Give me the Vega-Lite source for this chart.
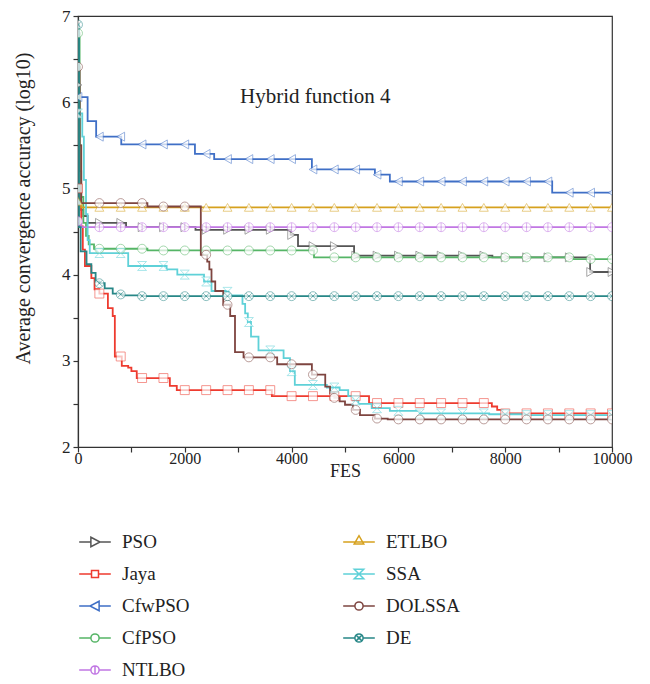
{
  "$schema": "https://vega.github.io/schema/vega-lite/v6.json",
  "width": 534,
  "height": 431,
  "autosize": "none",
  "padding": {"left": 78, "top": 16, "right": 38, "bottom": 237},
  "background": "white",
  "title": {"text": "Hybrid function 4", "anchor": "start", "frame": "group", "orient": "top", "offset": -100, "dx": 162, "fontSize": 21, "fontWeight": "normal", "font": "Liberation Serif", "color": "#222"},
  "config": {
    "font": "Liberation Serif",
    "view": {"stroke": "#333", "strokeWidth": 1.2},
    "axis": {"grid": false, "domainColor": "#333", "tickColor": "#333", "labelColor": "#222", "titleColor": "#222", "titleFontWeight": "normal", "labelFont": "Liberation Serif", "titleFont": "Liberation Serif", "labelFlush": false, "labelOverlap": false, "tickSize": 5, "domainWidth": 1.2, "tickWidth": 1.2}
  },
  "resolve": {"legend": {"color": "independent", "shape": "independent"}},
  "data": {"name": "curves"},
  "datasets": {
    "curves": [
      {"s":"PSO","x":0,"y":6.2},{"s":"PSO","x":30,"y":5.2},{"s":"PSO","x":60,"y":4.75},{"s":"PSO","x":100,"y":4.68},{"s":"PSO","x":180,"y":4.6},{"s":"PSO","x":400,"y":4.6},{"s":"PSO","x":800,"y":4.6},{"s":"PSO","x":900,"y":4.55},{"s":"PSO","x":1200,"y":4.55},{"s":"PSO","x":1600,"y":4.55},{"s":"PSO","x":2000,"y":4.55},{"s":"PSO","x":2200,"y":4.52},{"s":"PSO","x":2400,"y":4.52},{"s":"PSO","x":2800,"y":4.52},{"s":"PSO","x":3200,"y":4.52},{"s":"PSO","x":3600,"y":4.52},{"s":"PSO","x":3980,"y":4.46},{"s":"PSO","x":4000,"y":4.46},{"s":"PSO","x":4120,"y":4.33},{"s":"PSO","x":4400,"y":4.33},{"s":"PSO","x":4800,"y":4.33},{"s":"PSO","x":5170,"y":4.22},{"s":"PSO","x":5200,"y":4.22},{"s":"PSO","x":5600,"y":4.22},{"s":"PSO","x":6000,"y":4.22},{"s":"PSO","x":6400,"y":4.22},{"s":"PSO","x":6800,"y":4.22},{"s":"PSO","x":7200,"y":4.22},{"s":"PSO","x":7600,"y":4.22},{"s":"PSO","x":7760,"y":4.2},{"s":"PSO","x":8000,"y":4.2},{"s":"PSO","x":8400,"y":4.2},{"s":"PSO","x":8800,"y":4.2},{"s":"PSO","x":9200,"y":4.2},{"s":"PSO","x":9590,"y":4.03},{"s":"PSO","x":9600,"y":4.03},{"s":"PSO","x":10000,"y":4.03},

      {"s":"Jaya","x":0,"y":5.0},{"s":"Jaya","x":30,"y":4.85},{"s":"Jaya","x":60,"y":4.56},{"s":"Jaya","x":90,"y":4.29},{"s":"Jaya","x":130,"y":4.1},{"s":"Jaya","x":250,"y":3.96},{"s":"Jaya","x":310,"y":3.83},{"s":"Jaya","x":400,"y":3.78},{"s":"Jaya","x":560,"y":3.61},{"s":"Jaya","x":650,"y":3.52},{"s":"Jaya","x":690,"y":3.05},{"s":"Jaya","x":800,"y":3.05},{"s":"Jaya","x":820,"y":2.94},{"s":"Jaya","x":940,"y":2.92},{"s":"Jaya","x":1000,"y":2.88},{"s":"Jaya","x":1100,"y":2.8},{"s":"Jaya","x":1200,"y":2.8},{"s":"Jaya","x":1600,"y":2.8},{"s":"Jaya","x":1720,"y":2.71},{"s":"Jaya","x":1850,"y":2.66},{"s":"Jaya","x":2000,"y":2.66},{"s":"Jaya","x":2400,"y":2.66},{"s":"Jaya","x":2800,"y":2.66},{"s":"Jaya","x":3200,"y":2.66},{"s":"Jaya","x":3600,"y":2.66},{"s":"Jaya","x":3630,"y":2.59},{"s":"Jaya","x":4000,"y":2.59},{"s":"Jaya","x":4400,"y":2.59},{"s":"Jaya","x":4800,"y":2.59},{"s":"Jaya","x":5200,"y":2.59},{"s":"Jaya","x":5450,"y":2.51},{"s":"Jaya","x":5600,"y":2.51},{"s":"Jaya","x":6000,"y":2.51},{"s":"Jaya","x":6400,"y":2.51},{"s":"Jaya","x":6800,"y":2.51},{"s":"Jaya","x":7200,"y":2.51},{"s":"Jaya","x":7600,"y":2.51},{"s":"Jaya","x":7750,"y":2.47},{"s":"Jaya","x":7850,"y":2.43},{"s":"Jaya","x":7950,"y":2.39},{"s":"Jaya","x":8000,"y":2.39},{"s":"Jaya","x":8400,"y":2.39},{"s":"Jaya","x":8800,"y":2.39},{"s":"Jaya","x":9200,"y":2.39},{"s":"Jaya","x":9600,"y":2.39},{"s":"Jaya","x":10000,"y":2.39},

      {"s":"CfwPSO","x":0,"y":6.06},{"s":"CfwPSO","x":180,"y":5.78},{"s":"CfwPSO","x":340,"y":5.6},{"s":"CfwPSO","x":400,"y":5.6},{"s":"CfwPSO","x":800,"y":5.6},{"s":"CfwPSO","x":810,"y":5.51},{"s":"CfwPSO","x":1200,"y":5.51},{"s":"CfwPSO","x":1600,"y":5.51},{"s":"CfwPSO","x":2000,"y":5.51},{"s":"CfwPSO","x":2190,"y":5.4},{"s":"CfwPSO","x":2400,"y":5.4},{"s":"CfwPSO","x":2550,"y":5.34},{"s":"CfwPSO","x":2800,"y":5.34},{"s":"CfwPSO","x":3200,"y":5.34},{"s":"CfwPSO","x":3600,"y":5.34},{"s":"CfwPSO","x":4000,"y":5.34},{"s":"CfwPSO","x":4380,"y":5.22},{"s":"CfwPSO","x":4400,"y":5.22},{"s":"CfwPSO","x":4800,"y":5.22},{"s":"CfwPSO","x":5200,"y":5.22},{"s":"CfwPSO","x":5560,"y":5.16},{"s":"CfwPSO","x":5600,"y":5.16},{"s":"CfwPSO","x":5840,"y":5.08},{"s":"CfwPSO","x":6000,"y":5.08},{"s":"CfwPSO","x":6400,"y":5.08},{"s":"CfwPSO","x":6800,"y":5.08},{"s":"CfwPSO","x":7200,"y":5.08},{"s":"CfwPSO","x":7600,"y":5.08},{"s":"CfwPSO","x":8000,"y":5.08},{"s":"CfwPSO","x":8400,"y":5.08},{"s":"CfwPSO","x":8800,"y":5.08},{"s":"CfwPSO","x":8880,"y":4.95},{"s":"CfwPSO","x":9200,"y":4.95},{"s":"CfwPSO","x":9600,"y":4.95},{"s":"CfwPSO","x":10000,"y":4.95},

      {"s":"CfPSO","x":0,"y":6.8},{"s":"CfPSO","x":30,"y":5.5},{"s":"CfPSO","x":60,"y":4.9},{"s":"CfPSO","x":100,"y":4.6},{"s":"CfPSO","x":150,"y":4.45},{"s":"CfPSO","x":200,"y":4.35},{"s":"CfPSO","x":300,"y":4.3},{"s":"CfPSO","x":400,"y":4.3},{"s":"CfPSO","x":800,"y":4.3},{"s":"CfPSO","x":1200,"y":4.3},{"s":"CfPSO","x":1300,"y":4.28},{"s":"CfPSO","x":1600,"y":4.28},{"s":"CfPSO","x":2000,"y":4.28},{"s":"CfPSO","x":2400,"y":4.28},{"s":"CfPSO","x":2800,"y":4.28},{"s":"CfPSO","x":3200,"y":4.28},{"s":"CfPSO","x":3600,"y":4.28},{"s":"CfPSO","x":4000,"y":4.28},{"s":"CfPSO","x":4400,"y":4.28},{"s":"CfPSO","x":4420,"y":4.2},{"s":"CfPSO","x":4800,"y":4.2},{"s":"CfPSO","x":5200,"y":4.2},{"s":"CfPSO","x":5600,"y":4.2},{"s":"CfPSO","x":6000,"y":4.2},{"s":"CfPSO","x":6400,"y":4.2},{"s":"CfPSO","x":6800,"y":4.2},{"s":"CfPSO","x":7200,"y":4.2},{"s":"CfPSO","x":7600,"y":4.2},{"s":"CfPSO","x":8000,"y":4.2},{"s":"CfPSO","x":8400,"y":4.2},{"s":"CfPSO","x":8800,"y":4.2},{"s":"CfPSO","x":9200,"y":4.2},{"s":"CfPSO","x":9270,"y":4.18},{"s":"CfPSO","x":9600,"y":4.18},{"s":"CfPSO","x":10000,"y":4.18},

      {"s":"NTLBO","x":0,"y":4.62},{"s":"NTLBO","x":60,"y":4.55},{"s":"NTLBO","x":400,"y":4.55},{"s":"NTLBO","x":800,"y":4.55},{"s":"NTLBO","x":1200,"y":4.55},{"s":"NTLBO","x":1600,"y":4.55},{"s":"NTLBO","x":2000,"y":4.55},{"s":"NTLBO","x":2400,"y":4.55},{"s":"NTLBO","x":2800,"y":4.55},{"s":"NTLBO","x":3200,"y":4.55},{"s":"NTLBO","x":3600,"y":4.55},{"s":"NTLBO","x":4000,"y":4.55},{"s":"NTLBO","x":4400,"y":4.55},{"s":"NTLBO","x":4800,"y":4.55},{"s":"NTLBO","x":5200,"y":4.55},{"s":"NTLBO","x":5600,"y":4.55},{"s":"NTLBO","x":6000,"y":4.55},{"s":"NTLBO","x":6400,"y":4.55},{"s":"NTLBO","x":6800,"y":4.55},{"s":"NTLBO","x":7200,"y":4.55},{"s":"NTLBO","x":7600,"y":4.55},{"s":"NTLBO","x":8000,"y":4.55},{"s":"NTLBO","x":8400,"y":4.55},{"s":"NTLBO","x":8800,"y":4.55},{"s":"NTLBO","x":9200,"y":4.55},{"s":"NTLBO","x":9600,"y":4.55},{"s":"NTLBO","x":10000,"y":4.55},

      {"s":"ETLBO","x":0,"y":4.85},{"s":"ETLBO","x":60,"y":4.78},{"s":"ETLBO","x":400,"y":4.78},{"s":"ETLBO","x":800,"y":4.78},{"s":"ETLBO","x":1200,"y":4.78},{"s":"ETLBO","x":1600,"y":4.78},{"s":"ETLBO","x":2000,"y":4.78},{"s":"ETLBO","x":2400,"y":4.78},{"s":"ETLBO","x":2800,"y":4.78},{"s":"ETLBO","x":3200,"y":4.78},{"s":"ETLBO","x":3600,"y":4.78},{"s":"ETLBO","x":4000,"y":4.78},{"s":"ETLBO","x":4400,"y":4.78},{"s":"ETLBO","x":4800,"y":4.78},{"s":"ETLBO","x":5200,"y":4.78},{"s":"ETLBO","x":5600,"y":4.78},{"s":"ETLBO","x":6000,"y":4.78},{"s":"ETLBO","x":6400,"y":4.78},{"s":"ETLBO","x":6800,"y":4.78},{"s":"ETLBO","x":7200,"y":4.78},{"s":"ETLBO","x":7600,"y":4.78},{"s":"ETLBO","x":8000,"y":4.78},{"s":"ETLBO","x":8400,"y":4.78},{"s":"ETLBO","x":8800,"y":4.78},{"s":"ETLBO","x":9200,"y":4.78},{"s":"ETLBO","x":9600,"y":4.78},{"s":"ETLBO","x":10000,"y":4.78},

      {"s":"SSA","x":0,"y":5.87},{"s":"SSA","x":80,"y":5.6},{"s":"SSA","x":110,"y":5.1},{"s":"SSA","x":150,"y":4.7},{"s":"SSA","x":180,"y":4.4},{"s":"SSA","x":220,"y":4.25},{"s":"SSA","x":400,"y":4.25},{"s":"SSA","x":800,"y":4.25},{"s":"SSA","x":940,"y":4.1},{"s":"SSA","x":1200,"y":4.1},{"s":"SSA","x":1600,"y":4.1},{"s":"SSA","x":1660,"y":4.06},{"s":"SSA","x":1860,"y":4.0},{"s":"SSA","x":2000,"y":4.0},{"s":"SSA","x":2360,"y":3.92},{"s":"SSA","x":2400,"y":3.92},{"s":"SSA","x":2500,"y":3.81},{"s":"SSA","x":2800,"y":3.8},{"s":"SSA","x":2820,"y":3.76},{"s":"SSA","x":3080,"y":3.66},{"s":"SSA","x":3130,"y":3.55},{"s":"SSA","x":3180,"y":3.45},{"s":"SSA","x":3200,"y":3.45},{"s":"SSA","x":3240,"y":3.28},{"s":"SSA","x":3380,"y":3.12},{"s":"SSA","x":3600,"y":3.12},{"s":"SSA","x":3850,"y":3.03},{"s":"SSA","x":3970,"y":2.88},{"s":"SSA","x":4000,"y":2.88},{"s":"SSA","x":4060,"y":2.72},{"s":"SSA","x":4400,"y":2.72},{"s":"SSA","x":4660,"y":2.69},{"s":"SSA","x":4800,"y":2.69},{"s":"SSA","x":4900,"y":2.66},{"s":"SSA","x":5060,"y":2.59},{"s":"SSA","x":5150,"y":2.54},{"s":"SSA","x":5200,"y":2.54},{"s":"SSA","x":5250,"y":2.5},{"s":"SSA","x":5500,"y":2.45},{"s":"SSA","x":5600,"y":2.45},{"s":"SSA","x":5840,"y":2.42},{"s":"SSA","x":6000,"y":2.42},{"s":"SSA","x":6400,"y":2.39},{"s":"SSA","x":6800,"y":2.39},{"s":"SSA","x":7200,"y":2.39},{"s":"SSA","x":7600,"y":2.39},{"s":"SSA","x":7700,"y":2.38},{"s":"SSA","x":8000,"y":2.38},{"s":"SSA","x":8400,"y":2.37},{"s":"SSA","x":8800,"y":2.37},{"s":"SSA","x":9200,"y":2.37},{"s":"SSA","x":9600,"y":2.37},{"s":"SSA","x":10000,"y":2.37},

      {"s":"DOLSSA","x":0,"y":6.41},{"s":"DOLSSA","x":30,"y":5.5},{"s":"DOLSSA","x":60,"y":4.83},{"s":"DOLSSA","x":400,"y":4.83},{"s":"DOLSSA","x":800,"y":4.83},{"s":"DOLSSA","x":1200,"y":4.83},{"s":"DOLSSA","x":1300,"y":4.79},{"s":"DOLSSA","x":1600,"y":4.79},{"s":"DOLSSA","x":2000,"y":4.79},{"s":"DOLSSA","x":2300,"y":4.23},{"s":"DOLSSA","x":2400,"y":4.23},{"s":"DOLSSA","x":2420,"y":4.15},{"s":"DOLSSA","x":2460,"y":4.06},{"s":"DOLSSA","x":2500,"y":3.92},{"s":"DOLSSA","x":2570,"y":3.81},{"s":"DOLSSA","x":2720,"y":3.65},{"s":"DOLSSA","x":2800,"y":3.65},{"s":"DOLSSA","x":2850,"y":3.52},{"s":"DOLSSA","x":2940,"y":3.1},{"s":"DOLSSA","x":3100,"y":3.04},{"s":"DOLSSA","x":3200,"y":3.04},{"s":"DOLSSA","x":3600,"y":3.04},{"s":"DOLSSA","x":3730,"y":2.96},{"s":"DOLSSA","x":4000,"y":2.96},{"s":"DOLSSA","x":4380,"y":2.84},{"s":"DOLSSA","x":4400,"y":2.84},{"s":"DOLSSA","x":4630,"y":2.7},{"s":"DOLSSA","x":4720,"y":2.62},{"s":"DOLSSA","x":4800,"y":2.57},{"s":"DOLSSA","x":4900,"y":2.53},{"s":"DOLSSA","x":5000,"y":2.49},{"s":"DOLSSA","x":5150,"y":2.43},{"s":"DOLSSA","x":5200,"y":2.43},{"s":"DOLSSA","x":5280,"y":2.37},{"s":"DOLSSA","x":5560,"y":2.33},{"s":"DOLSSA","x":5600,"y":2.33},{"s":"DOLSSA","x":5800,"y":2.32},{"s":"DOLSSA","x":6000,"y":2.32},{"s":"DOLSSA","x":6400,"y":2.32},{"s":"DOLSSA","x":6800,"y":2.32},{"s":"DOLSSA","x":7200,"y":2.32},{"s":"DOLSSA","x":7600,"y":2.32},{"s":"DOLSSA","x":8000,"y":2.32},{"s":"DOLSSA","x":8400,"y":2.32},{"s":"DOLSSA","x":8800,"y":2.32},{"s":"DOLSSA","x":9200,"y":2.32},{"s":"DOLSSA","x":9600,"y":2.32},{"s":"DOLSSA","x":10000,"y":2.32},

      {"s":"DE","x":0,"y":6.9},{"s":"DE","x":20,"y":4.55},{"s":"DE","x":50,"y":4.27},{"s":"DE","x":160,"y":4.12},{"s":"DE","x":250,"y":4.02},{"s":"DE","x":330,"y":3.92},{"s":"DE","x":400,"y":3.9},{"s":"DE","x":500,"y":3.84},{"s":"DE","x":650,"y":3.78},{"s":"DE","x":800,"y":3.77},{"s":"DE","x":850,"y":3.76},{"s":"DE","x":1200,"y":3.75},{"s":"DE","x":1600,"y":3.75},{"s":"DE","x":2000,"y":3.75},{"s":"DE","x":2400,"y":3.75},{"s":"DE","x":2800,"y":3.75},{"s":"DE","x":3200,"y":3.75},{"s":"DE","x":3600,"y":3.75},{"s":"DE","x":4000,"y":3.75},{"s":"DE","x":4400,"y":3.75},{"s":"DE","x":4800,"y":3.75},{"s":"DE","x":5200,"y":3.75},{"s":"DE","x":5600,"y":3.75},{"s":"DE","x":6000,"y":3.75},{"s":"DE","x":6400,"y":3.75},{"s":"DE","x":6800,"y":3.75},{"s":"DE","x":7200,"y":3.75},{"s":"DE","x":7600,"y":3.75},{"s":"DE","x":8000,"y":3.75},{"s":"DE","x":8400,"y":3.75},{"s":"DE","x":8800,"y":3.75},{"s":"DE","x":9200,"y":3.75},{"s":"DE","x":9600,"y":3.75},{"s":"DE","x":10000,"y":3.75}
    ]
  },
  "encoding": {
    "x": {"field": "x", "type": "quantitative", "scale": {"domain": [0, 10000], "nice": false, "zero": false},
      "axis": {"title": "FES", "values": [0,1000,2000,3000,4000,5000,6000,7000,8000,9000,10000], "format": "d", "labelExpr": "datum.value % 2000 === 0 ? datum.label : ''", "labelFontSize": 16, "titleFontSize": 18, "labelPadding": -2, "titlePadding": -4}},
    "y": {"field": "y", "type": "quantitative", "scale": {"domain": [2, 7], "nice": false, "zero": false},
      "axis": {"title": "Average convergence accuracy (log10)", "values": [2,2.5,3,3.5,4,4.5,5,5.5,6,6.5,7], "labelExpr": "datum.value % 1 === 0 ? format(datum.value, 'd') : ''", "labelFontSize": 17, "titleFontSize": 20, "labelPadding": 3, "titlePadding": 28, "titleY": 192}}
  },
  "layer": [
    {
      "mark": {"type": "line", "interpolate": "step-after", "strokeWidth": 1.8, "clip": true},
      "encoding": {
        "color": {"field": "s", "type": "nominal",
          "scale": {"domain": ["PSO","Jaya","CfwPSO","CfPSO","NTLBO","ETLBO","SSA","DOLSSA","DE"],
                    "range": ["#555555","#ee3b2f","#3f6fc6","#55b566","#c177e3","#d6a11e","#5fd1d8","#7e4540","#278787"]},
          "legend": {"orient": "none", "legendX": 0, "legendY": 509, "columns": 2, "title": null, "symbolSize": 1000, "labelFontSize": 19, "labelFont": "Liberation Serif", "labelColor": "#222", "rowPadding": 5, "columnPadding": 144, "labelOffset": 10, "symbolStrokeWidth": 1.5, "gridAlign": "all", "padding": 0,
            "encode": {"symbols": {"update": {
              "size": {"value": 1000},
              "strokeWidth": {"value": 1.5},
              "fill": {"value": "white"},
              "opacity": {"value": 1},
              "shape": {"signal": "datum.value === 'PSO' ? 'M-1,0H-0.26M0.32,0H1M-0.26,-0.3L0.32,0L-0.26,0.3Z' : datum.value === 'Jaya' ? 'M-1,0H-0.22M0.22,0H1M-0.22,-0.22H0.22V0.22H-0.22Z' : datum.value === 'CfwPSO' ? 'M-1,0H-0.32M0.26,0H1M0.26,-0.3L-0.32,0L0.26,0.3Z' : datum.value === 'CfPSO' || datum.value === 'DOLSSA' ? 'M-1,0H-0.26M0.26,0H1M-0.26,0A0.26,0.26 0 1,0 0.26,0A0.26,0.26 0 1,0 -0.26,0Z' : datum.value === 'NTLBO' ? 'M-1,0H-0.26M0.26,0H1M-0.26,0A0.26,0.26 0 1,0 0.26,0A0.26,0.26 0 1,0 -0.26,0ZM0,-0.26V0.26' : datum.value === 'ETLBO' ? 'M-1,0H1M-0.3,0.12L0,-0.4L0.3,0.12Z' : datum.value === 'SSA' ? 'M-1,0H1M-0.3,-0.3H0.3L-0.3,0.3H0.3Z' : 'M-1,0H-0.26M0.26,0H1M-0.26,0A0.26,0.26 0 1,0 0.26,0A0.26,0.26 0 1,0 -0.26,0ZM-0.18,-0.18L0.18,0.18M0.18,-0.18L-0.18,0.18'"}
            }}}}}
      }
    },
    {
      "transform": [{"filter": "datum.x % 400 === 0"}],
      "mark": {"type": "point", "filled": false, "fill": "white", "size": 80, "strokeWidth": 1, "strokeOpacity": 0.75, "clip": true},
      "encoding": {
        "shape": {"field": "s", "type": "nominal", "legend": null,
          "scale": {"domain": ["PSO","Jaya","CfwPSO","CfPSO","NTLBO","ETLBO","SSA","DOLSSA","DE"],
                    "range": ["triangle-right","square","triangle-left","circle","M-1,0A1,1 0 1,0 1,0A1,1 0 1,0 -1,0ZM0,-1V1","triangle-up","M-1,-1H1L-1,1H1Z","circle","M-1,0A1,1 0 1,0 1,0A1,1 0 1,0 -1,0ZM-0.7,-0.7L0.7,0.7M0.7,-0.7L-0.7,0.7"]}},
        "color": {"field": "s", "type": "nominal", "legend": null}
      }
    }
  ]
}
